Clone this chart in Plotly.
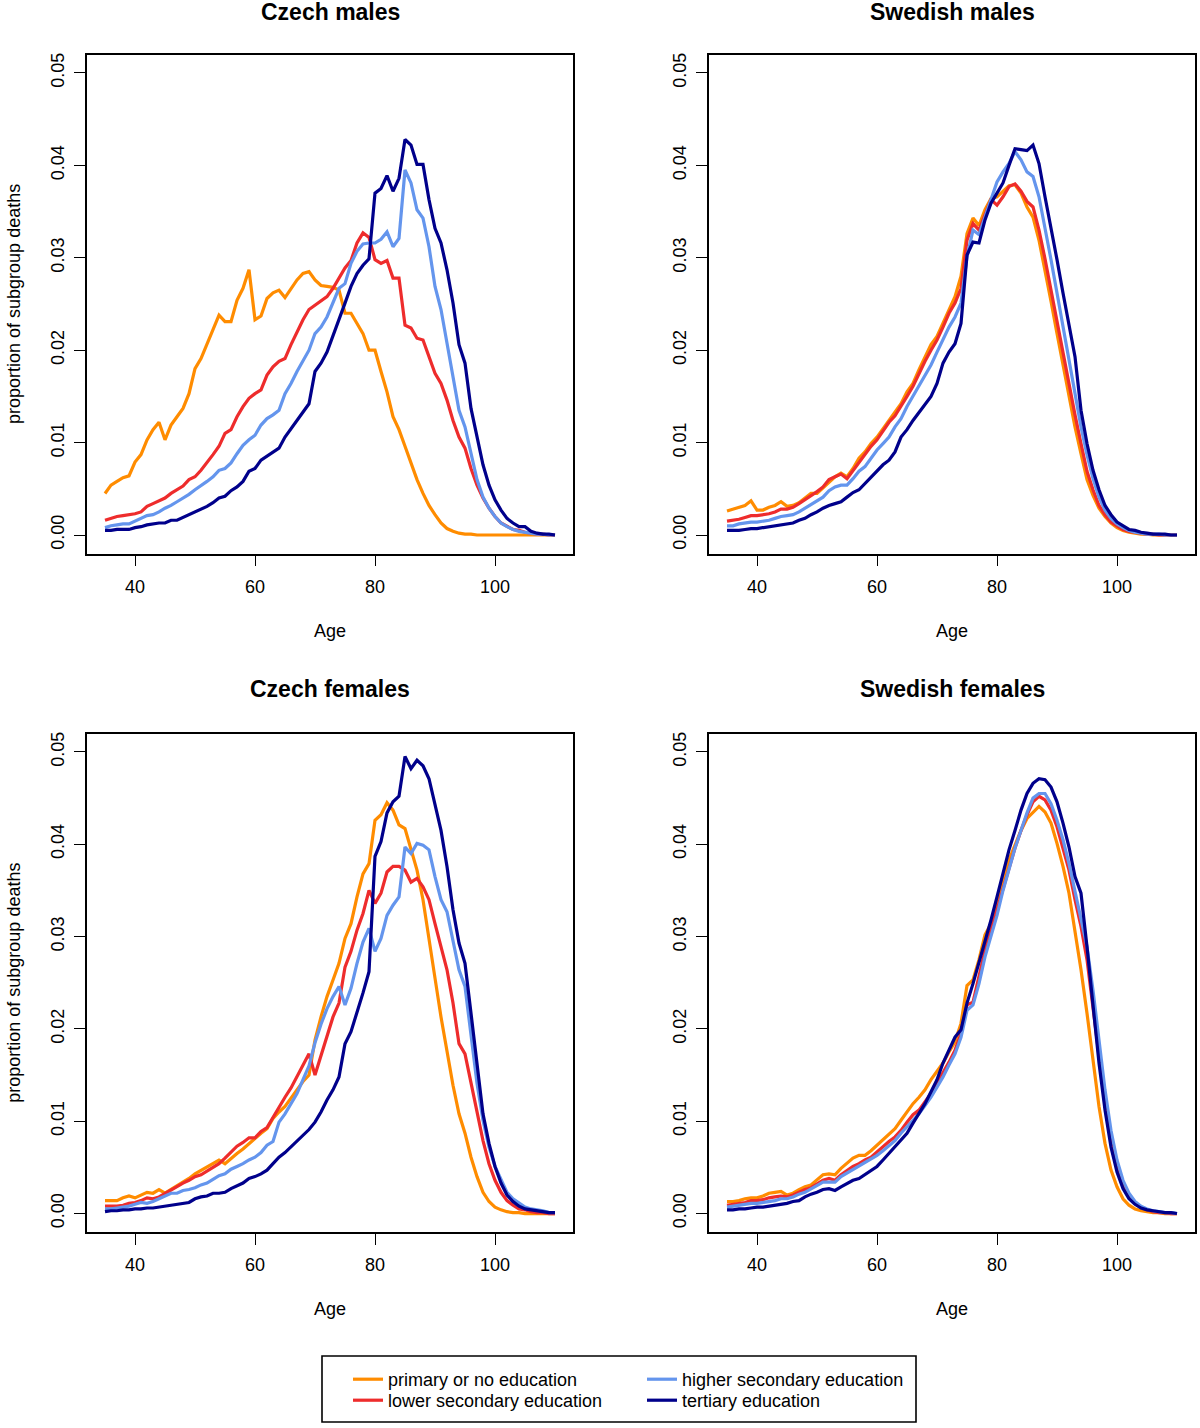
import plotly.graph_objects as go

AGES = list(range(35, 111))

GROUPS = ["primary or no education", "lower secondary education",
          "higher secondary education", "tertiary education"]
COLORS = ["#FF8C00", "#EE2C2C", "#6495ED", "#00008B"]
LEGEND_OF = ["legend", "legend2", "legend3", "legend4"]

PANEL_TITLES = ["Czech males", "Swedish males", "Czech females", "Swedish females"]

CZ_M_PRIM = [0.0045, 0.0054, 0.0058, 0.0062, 0.0064, 0.0079, 0.0087, 0.0103, 0.0114, 0.0122,
             0.0103, 0.0119, 0.0128, 0.0137, 0.0153, 0.0180, 0.0191, 0.0207, 0.0224, 0.0238,
             0.0231, 0.0231, 0.0254, 0.0267, 0.0287, 0.0233, 0.0237, 0.0256, 0.0262, 0.0265,
             0.0257, 0.0267, 0.0276, 0.0283, 0.0285, 0.0276, 0.0270, 0.0269, 0.0268, 0.0265,
             0.0240, 0.0240, 0.0229, 0.0218, 0.0200, 0.0200, 0.0177, 0.0155, 0.0128, 0.0114,
             0.0096, 0.0078, 0.0060, 0.0045, 0.0032, 0.0022, 0.0013, 0.0007, 0.0004, 0.0002,
             0.0001, 0.0001, 0.0000, 0.0000, 0.0000, 0.0000, 0.0000, 0.0000, 0.0000, 0.0000,
             0.0000, 0.0000, 0.0000, 0.0000, 0.0000, 0.0000]
CZ_M_LOW = [0.0016, 0.0018, 0.0020, 0.0021, 0.0022, 0.0023, 0.0025, 0.0031, 0.0034, 0.0037,
            0.0040, 0.0045, 0.0049, 0.0053, 0.0060, 0.0063, 0.0070, 0.0078, 0.0087, 0.0096,
            0.0110, 0.0114, 0.0128, 0.0139, 0.0148, 0.0153, 0.0157, 0.0173, 0.0182, 0.0188,
            0.0191, 0.0206, 0.0220, 0.0233, 0.0244, 0.0249, 0.0254, 0.0258, 0.0267, 0.0278,
            0.0289, 0.0297, 0.0316, 0.0327, 0.0322, 0.0298, 0.0294, 0.0297, 0.0278, 0.0278,
            0.0227, 0.0224, 0.0213, 0.0211, 0.0193, 0.0175, 0.0164, 0.0146, 0.0124, 0.0106,
            0.0094, 0.0072, 0.0054, 0.0040, 0.0029, 0.0020, 0.0013, 0.0009, 0.0006, 0.0005,
            0.0003, 0.0002, 0.0001, 0.0001, 0.0000, 0.0000]
CZ_M_HIGH = [0.0008, 0.0010, 0.0011, 0.0012, 0.0012, 0.0015, 0.0018, 0.0021, 0.0022, 0.0025,
             0.0029, 0.0032, 0.0036, 0.0040, 0.0044, 0.0049, 0.0053, 0.0058, 0.0063, 0.0070,
             0.0072, 0.0078, 0.0088, 0.0097, 0.0103, 0.0108, 0.0119, 0.0126, 0.0130, 0.0135,
             0.0153, 0.0164, 0.0177, 0.0189, 0.0200, 0.0218, 0.0225, 0.0236, 0.0251, 0.0267,
             0.0272, 0.0294, 0.0307, 0.0315, 0.0316, 0.0316, 0.0320, 0.0328, 0.0312, 0.0321,
             0.0395, 0.0381, 0.0352, 0.0343, 0.0312, 0.0269, 0.0244, 0.0207, 0.0168, 0.0135,
             0.0117, 0.0087, 0.0060, 0.0041, 0.0029, 0.0020, 0.0013, 0.0009, 0.0006, 0.0004,
             0.0003, 0.0002, 0.0001, 0.0001, 0.0000, 0.0000]
CZ_M_TERT = [0.0005, 0.0005, 0.0006, 0.0006, 0.0006, 0.0008, 0.0009, 0.0011, 0.0012, 0.0013,
             0.0013, 0.0016, 0.0016, 0.0019, 0.0022, 0.0025, 0.0028, 0.0031, 0.0035, 0.0040,
             0.0042, 0.0048, 0.0052, 0.0058, 0.0069, 0.0072, 0.0081, 0.0085, 0.0090, 0.0094,
             0.0106, 0.0115, 0.0124, 0.0133, 0.0142, 0.0177, 0.0186, 0.0198, 0.0215, 0.0233,
             0.0251, 0.0269, 0.0283, 0.0292, 0.0299, 0.0370, 0.0375, 0.0389, 0.0372, 0.0386,
             0.0428, 0.0422, 0.0401, 0.0401, 0.0363, 0.0332, 0.0316, 0.0287, 0.0251, 0.0206,
             0.0186, 0.0137, 0.0105, 0.0076, 0.0054, 0.0038, 0.0027, 0.0018, 0.0013, 0.0009,
             0.0009, 0.0004, 0.0002, 0.0001, 0.0001, 0.0000]

SE_M_PRIM = [0.0026, 0.0028, 0.0030, 0.0032, 0.0037, 0.0027, 0.0027, 0.0030, 0.0032, 0.0036,
             0.0031, 0.0032, 0.0035, 0.0040, 0.0045, 0.0045, 0.0051, 0.0058, 0.0063, 0.0067,
             0.0063, 0.0072, 0.0083, 0.0090, 0.0099, 0.0106, 0.0115, 0.0124, 0.0132, 0.0142,
             0.0155, 0.0164, 0.0179, 0.0193, 0.0206, 0.0215, 0.0229, 0.0244, 0.0258, 0.0280,
             0.0326, 0.0343, 0.0335, 0.0352, 0.0364, 0.0366, 0.0372, 0.0378, 0.0379, 0.0370,
             0.0355, 0.0344, 0.0319, 0.0287, 0.0253, 0.0218, 0.0184, 0.0150, 0.0117, 0.0088,
             0.0060, 0.0043, 0.0029, 0.0020, 0.0013, 0.0008, 0.0005, 0.0003, 0.0002, 0.0001,
             0.0001, 0.0000, 0.0000, 0.0000, 0.0000, 0.0000]
SE_M_LOW = [0.0015, 0.0016, 0.0017, 0.0019, 0.0021, 0.0021, 0.0022, 0.0023, 0.0025, 0.0028,
            0.0028, 0.0030, 0.0034, 0.0038, 0.0043, 0.0047, 0.0052, 0.0060, 0.0063, 0.0066,
            0.0061, 0.0070, 0.0079, 0.0087, 0.0096, 0.0103, 0.0112, 0.0122, 0.0129, 0.0139,
            0.0150, 0.0161, 0.0175, 0.0188, 0.0200, 0.0211, 0.0225, 0.0240, 0.0251, 0.0267,
            0.0319, 0.0337, 0.0330, 0.0346, 0.0363, 0.0357, 0.0366, 0.0377, 0.0380, 0.0372,
            0.0361, 0.0355, 0.0330, 0.0299, 0.0265, 0.0231, 0.0197, 0.0162, 0.0130, 0.0099,
            0.0069, 0.0049, 0.0032, 0.0022, 0.0014, 0.0010, 0.0006, 0.0004, 0.0003, 0.0002,
            0.0001, 0.0001, 0.0000, 0.0000, 0.0000, 0.0000]
SE_M_HIGH = [0.0010, 0.0010, 0.0012, 0.0013, 0.0014, 0.0014, 0.0015, 0.0016, 0.0018, 0.0020,
             0.0021, 0.0022, 0.0025, 0.0029, 0.0032, 0.0036, 0.0041, 0.0048, 0.0052, 0.0054,
             0.0054, 0.0061, 0.0069, 0.0074, 0.0083, 0.0092, 0.0099, 0.0106, 0.0117, 0.0126,
             0.0139, 0.0150, 0.0161, 0.0173, 0.0184, 0.0198, 0.0211, 0.0225, 0.0236, 0.0251,
             0.0301, 0.0330, 0.0325, 0.0344, 0.0361, 0.0382, 0.0393, 0.0402, 0.0415, 0.0406,
             0.0393, 0.0388, 0.0366, 0.0334, 0.0298, 0.0262, 0.0225, 0.0189, 0.0153, 0.0117,
             0.0087, 0.0061, 0.0041, 0.0027, 0.0018, 0.0012, 0.0008, 0.0005, 0.0003, 0.0002,
             0.0001, 0.0001, 0.0001, 0.0000, 0.0000, 0.0000]
SE_M_TERT = [0.0005, 0.0005, 0.0005, 0.0006, 0.0007, 0.0007, 0.0008, 0.0009, 0.0010, 0.0011,
             0.0012, 0.0013, 0.0016, 0.0018, 0.0022, 0.0025, 0.0029, 0.0032, 0.0034, 0.0036,
             0.0041, 0.0046, 0.0049, 0.0056, 0.0063, 0.0070, 0.0076, 0.0081, 0.0090, 0.0106,
             0.0114, 0.0124, 0.0133, 0.0142, 0.0150, 0.0164, 0.0186, 0.0198, 0.0207, 0.0229,
             0.0303, 0.0317, 0.0316, 0.0341, 0.0359, 0.0370, 0.0381, 0.0400, 0.0418, 0.0417,
             0.0416, 0.0422, 0.0402, 0.0366, 0.0334, 0.0298, 0.0262, 0.0225, 0.0193, 0.0135,
             0.0099, 0.0070, 0.0049, 0.0032, 0.0022, 0.0014, 0.0010, 0.0006, 0.0005, 0.0003,
             0.0002, 0.0001, 0.0001, 0.0001, 0.0000, 0.0000]

CZ_F_PRIM = [0.0014, 0.0014, 0.0014, 0.0017, 0.0019, 0.0017, 0.0020, 0.0023, 0.0022, 0.0026,
             0.0022, 0.0026, 0.0030, 0.0033, 0.0038, 0.0043, 0.0047, 0.0051, 0.0054, 0.0058,
             0.0054, 0.0060, 0.0065, 0.0070, 0.0076, 0.0081, 0.0087, 0.0092, 0.0103, 0.0110,
             0.0116, 0.0125, 0.0134, 0.0143, 0.0150, 0.0188, 0.0213, 0.0235, 0.0253, 0.0271,
             0.0298, 0.0314, 0.0343, 0.0368, 0.0379, 0.0426, 0.0432, 0.0445, 0.0437, 0.0421,
             0.0417, 0.0394, 0.0372, 0.0340, 0.0300, 0.0255, 0.0213, 0.0177, 0.0139, 0.0108,
             0.0087, 0.0061, 0.0040, 0.0023, 0.0013, 0.0007, 0.0004, 0.0002, 0.0001, 0.0001,
             0.0000, 0.0000, 0.0000, 0.0000, 0.0000, 0.0000]
CZ_F_LOW = [0.0008, 0.0008, 0.0008, 0.0009, 0.0011, 0.0012, 0.0014, 0.0017, 0.0016, 0.0018,
            0.0022, 0.0025, 0.0029, 0.0033, 0.0036, 0.0040, 0.0042, 0.0046, 0.0050, 0.0054,
            0.0060, 0.0066, 0.0073, 0.0077, 0.0082, 0.0082, 0.0089, 0.0093, 0.0104, 0.0116,
            0.0126, 0.0136, 0.0148, 0.0160, 0.0173, 0.0150, 0.0172, 0.0193, 0.0213, 0.0228,
            0.0267, 0.0284, 0.0307, 0.0325, 0.0350, 0.0336, 0.0347, 0.0370, 0.0376, 0.0376,
            0.0372, 0.0359, 0.0363, 0.0354, 0.0340, 0.0314, 0.0289, 0.0264, 0.0228, 0.0184,
            0.0173, 0.0141, 0.0108, 0.0079, 0.0054, 0.0036, 0.0023, 0.0014, 0.0009, 0.0005,
            0.0004, 0.0002, 0.0001, 0.0001, 0.0000, 0.0000]
CZ_F_HIGH = [0.0005, 0.0005, 0.0006, 0.0007, 0.0008, 0.0010, 0.0012, 0.0011, 0.0013, 0.0016,
             0.0019, 0.0022, 0.0022, 0.0025, 0.0026, 0.0028, 0.0031, 0.0033, 0.0037, 0.0041,
             0.0043, 0.0048, 0.0051, 0.0054, 0.0058, 0.0061, 0.0066, 0.0074, 0.0078, 0.0099,
             0.0108, 0.0119, 0.0130, 0.0145, 0.0160, 0.0185, 0.0205, 0.0222, 0.0235, 0.0246,
             0.0226, 0.0244, 0.0271, 0.0294, 0.0309, 0.0284, 0.0298, 0.0323, 0.0334, 0.0343,
             0.0397, 0.0390, 0.0401, 0.0399, 0.0394, 0.0365, 0.0340, 0.0327, 0.0296, 0.0264,
             0.0246, 0.0191, 0.0141, 0.0101, 0.0072, 0.0051, 0.0036, 0.0023, 0.0016, 0.0011,
             0.0007, 0.0005, 0.0004, 0.0003, 0.0001, 0.0001]
CZ_F_TERT = [0.0002, 0.0003, 0.0003, 0.0004, 0.0004, 0.0005, 0.0005, 0.0006, 0.0006, 0.0007,
             0.0008, 0.0009, 0.0010, 0.0011, 0.0012, 0.0016, 0.0018, 0.0019, 0.0022, 0.0022,
             0.0023, 0.0027, 0.0030, 0.0033, 0.0038, 0.0040, 0.0043, 0.0047, 0.0054, 0.0061,
             0.0066, 0.0072, 0.0079, 0.0085, 0.0091, 0.0099, 0.0110, 0.0123, 0.0134, 0.0148,
             0.0184, 0.0197, 0.0217, 0.0239, 0.0262, 0.0387, 0.0403, 0.0434, 0.0446, 0.0452,
             0.0495, 0.0482, 0.0491, 0.0485, 0.0471, 0.0441, 0.0415, 0.0376, 0.0329, 0.0293,
             0.0271, 0.0217, 0.0163, 0.0108, 0.0076, 0.0051, 0.0033, 0.0020, 0.0013, 0.0008,
             0.0005, 0.0004, 0.0003, 0.0002, 0.0001, 0.0001]

SE_F_PRIM = [0.0013, 0.0013, 0.0014, 0.0016, 0.0017, 0.0017, 0.0019, 0.0022, 0.0023, 0.0024,
             0.0020, 0.0022, 0.0026, 0.0029, 0.0031, 0.0036, 0.0042, 0.0043, 0.0042, 0.0049,
             0.0054, 0.0060, 0.0063, 0.0063, 0.0068, 0.0074, 0.0081, 0.0087, 0.0092, 0.0101,
             0.0110, 0.0119, 0.0126, 0.0134, 0.0145, 0.0154, 0.0163, 0.0175, 0.0186, 0.0206,
             0.0247, 0.0253, 0.0275, 0.0302, 0.0314, 0.0340, 0.0361, 0.0383, 0.0399, 0.0415,
             0.0428, 0.0435, 0.0441, 0.0435, 0.0423, 0.0401, 0.0376, 0.0347, 0.0307, 0.0264,
             0.0217, 0.0163, 0.0116, 0.0076, 0.0047, 0.0029, 0.0016, 0.0009, 0.0005, 0.0003,
             0.0002, 0.0001, 0.0001, 0.0000, 0.0000, 0.0000]
SE_F_LOW = [0.0009, 0.0010, 0.0011, 0.0012, 0.0014, 0.0014, 0.0015, 0.0017, 0.0018, 0.0019,
            0.0018, 0.0020, 0.0023, 0.0026, 0.0028, 0.0032, 0.0036, 0.0038, 0.0036, 0.0042,
            0.0047, 0.0051, 0.0054, 0.0058, 0.0061, 0.0067, 0.0072, 0.0078, 0.0083, 0.0090,
            0.0099, 0.0107, 0.0112, 0.0121, 0.0130, 0.0141, 0.0152, 0.0164, 0.0177, 0.0195,
            0.0226, 0.0229, 0.0257, 0.0285, 0.0307, 0.0329, 0.0354, 0.0376, 0.0396, 0.0415,
            0.0432, 0.0446, 0.0452, 0.0448, 0.0437, 0.0419, 0.0397, 0.0372, 0.0340, 0.0311,
            0.0275, 0.0224, 0.0170, 0.0119, 0.0079, 0.0051, 0.0031, 0.0018, 0.0011, 0.0007,
            0.0004, 0.0002, 0.0001, 0.0001, 0.0000, 0.0000]
SE_F_HIGH = [0.0007, 0.0008, 0.0009, 0.0010, 0.0011, 0.0011, 0.0012, 0.0013, 0.0014, 0.0016,
             0.0016, 0.0018, 0.0021, 0.0023, 0.0027, 0.0031, 0.0034, 0.0034, 0.0034, 0.0040,
             0.0044, 0.0048, 0.0051, 0.0055, 0.0059, 0.0063, 0.0068, 0.0073, 0.0079, 0.0087,
             0.0094, 0.0101, 0.0108, 0.0117, 0.0126, 0.0137, 0.0148, 0.0161, 0.0173, 0.0191,
             0.0220, 0.0226, 0.0249, 0.0278, 0.0300, 0.0323, 0.0350, 0.0374, 0.0396, 0.0415,
             0.0434, 0.0450, 0.0455, 0.0455, 0.0444, 0.0426, 0.0405, 0.0379, 0.0350, 0.0321,
             0.0289, 0.0242, 0.0188, 0.0134, 0.0090, 0.0058, 0.0036, 0.0022, 0.0013, 0.0008,
             0.0005, 0.0003, 0.0002, 0.0001, 0.0001, 0.0000]
SE_F_TERT = [0.0004, 0.0004, 0.0005, 0.0005, 0.0006, 0.0007, 0.0007, 0.0008, 0.0009, 0.0010,
             0.0011, 0.0013, 0.0014, 0.0018, 0.0021, 0.0023, 0.0026, 0.0027, 0.0025, 0.0029,
             0.0033, 0.0036, 0.0038, 0.0042, 0.0046, 0.0051, 0.0058, 0.0065, 0.0072, 0.0079,
             0.0087, 0.0098, 0.0108, 0.0119, 0.0132, 0.0145, 0.0163, 0.0177, 0.0191, 0.0199,
             0.0228, 0.0249, 0.0271, 0.0293, 0.0318, 0.0343, 0.0369, 0.0394, 0.0415, 0.0437,
             0.0455, 0.0466, 0.0471, 0.0470, 0.0462, 0.0446, 0.0423, 0.0397, 0.0365, 0.0347,
             0.0289, 0.0224, 0.0163, 0.0112, 0.0072, 0.0045, 0.0027, 0.0016, 0.0010, 0.0006,
             0.0004, 0.0003, 0.0002, 0.0001, 0.0001, 0.0000]

PANELS = [
    [CZ_M_PRIM, CZ_M_LOW, CZ_M_HIGH, CZ_M_TERT],
    [SE_M_PRIM, SE_M_LOW, SE_M_HIGH, SE_M_TERT],
    [CZ_F_PRIM, CZ_F_LOW, CZ_F_HIGH, CZ_F_TERT],
    [SE_F_PRIM, SE_F_LOW, SE_F_HIGH, SE_F_TERT],
]

X_TICKS = [40, 60, 80, 100]
Y_TICKS = [0.00, 0.01, 0.02, 0.03, 0.04, 0.05]
Y_TICKTEXT = ["0.00", "0.01", "0.02", "0.03", "0.04", "0.05"]

# ---------------- layout -----------------
W, H = 1200, 1428
FONT = "Liberation Sans, Arial, sans-serif"


def px_x(v):
    return v / W


def px_y(v):
    return 1 - v / H


X_DOMAINS = [[px_x(87), px_x(573)], [px_x(709), px_x(1195)]]
Y_DOMAINS = [[px_y(553.5), px_y(54.5)], [px_y(1232), px_y(733.5)]]

fig = go.Figure()

for p, series in enumerate(PANELS):
    ax = "" if p == 0 else str(p + 1)
    for g, vals in enumerate(series):
        fig.add_trace(go.Scatter(
            x=AGES, y=vals, mode="lines",
            name=GROUPS[g], legend=LEGEND_OF[g],
            showlegend=(p == 0),
            line=dict(color=COLORS[g], width=3.2),
            xaxis="x" + ax, yaxis="y" + ax,
        ))

axis_common = dict(
    showline=True, mirror=True, linecolor="black", linewidth=1.6,
    showgrid=False, zeroline=False,
    ticks="outside", ticklen=11, tickwidth=1.4, tickcolor="black",
    tickfont=dict(family=FONT, size=18, color="black"),
)

legend_common = dict(
    orientation="v", xanchor="left", yanchor="top",
    bgcolor="rgba(0,0,0,0)", borderwidth=0,
    itemwidth=30, tracegroupgap=0,
    font=dict(family=FONT, size=18, color="black"),
)

# legend entries: column-major, two columns, two rows
LEG_COL_X = [348, 642]
LEG_ROW_TOP = [1361, 1382]

layout = dict(
    width=W, height=H, margin=dict(l=0, r=0, t=0, b=0, autoexpand=False),
    paper_bgcolor="white", plot_bgcolor="white",
    font=dict(family=FONT, size=18, color="black"),
    showlegend=True,
    legend=dict(legend_common, x=px_x(LEG_COL_X[0]), y=px_y(LEG_ROW_TOP[0])),
    legend2=dict(legend_common, x=px_x(LEG_COL_X[0]), y=px_y(LEG_ROW_TOP[1])),
    legend3=dict(legend_common, x=px_x(LEG_COL_X[1]), y=px_y(LEG_ROW_TOP[0])),
    legend4=dict(legend_common, x=px_x(LEG_COL_X[1]), y=px_y(LEG_ROW_TOP[1])),
    shapes=[dict(
        type="rect", xref="paper", yref="paper",
        x0=px_x(322), x1=px_x(916), y0=px_y(1422), y1=px_y(1356),
        line=dict(color="black", width=1.6), fillcolor="rgba(0,0,0,0)", layer="below",
    )],
)

annotations = []
for p in range(4):
    ax = "" if p == 0 else str(p + 1)
    col, row = p % 2, p // 2
    layout["xaxis" + ax] = dict(
        axis_common, domain=X_DOMAINS[col], range=[32, 113],
        tickvals=X_TICKS, ticklabelstandoff=5,
        anchor="y" + ax,
    )
    layout["yaxis" + ax] = dict(
        axis_common, domain=Y_DOMAINS[row], range=[-0.002, 0.052],
        tickvals=Y_TICKS, ticktext=Y_TICKTEXT, tickangle=-90, ticklabelstandoff=3,
        anchor="x" + ax,
    )
    title_y = [12, 689][row]
    annotations.append(dict(
        text="<b>" + PANEL_TITLES[p] + "</b>", xref="x" + ax + " domain", x=0.5,
        yref="paper", y=px_y(title_y), yanchor="middle", showarrow=False,
        font=dict(family=FONT, size=23, color="black"),
    ))
    age_y = [631, 1309][row]
    annotations.append(dict(
        text="Age", xref="x" + ax + " domain", x=0.5,
        yref="paper", y=px_y(age_y), yanchor="middle", showarrow=False,
        font=dict(family=FONT, size=18, color="black"),
    ))
    if col == 0:
        annotations.append(dict(
            text="proportion of subgroup deaths", textangle=-90,
            xref="paper", x=px_x(14), xanchor="center",
            yref="y" + ax + " domain", y=0.5, yanchor="middle", showarrow=False,
            font=dict(family=FONT, size=18, color="black"),
        ))

layout["annotations"] = annotations
fig.update_layout(**layout)

# remove the default page margin so the figure sits at the window's top-left corner
fig.write_html(
    "out.html",
    config={"displayModeBar": False},
    post_script="document.body.style.margin='0';document.body.style.overflow='hidden';",
)
